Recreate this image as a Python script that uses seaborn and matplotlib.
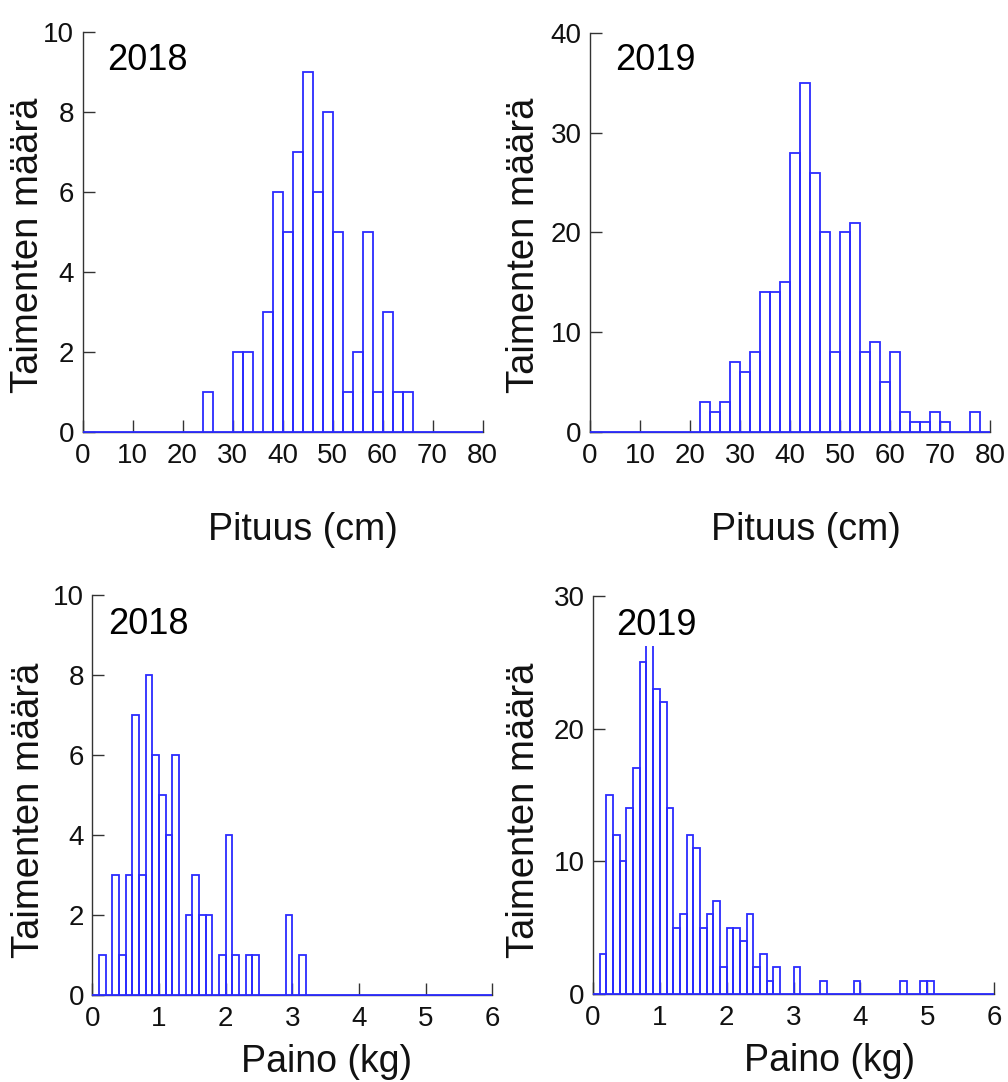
import numpy as np
import pandas as pd
import matplotlib
matplotlib.use("Agg")
import matplotlib.pyplot as plt
import seaborn as sns

# ---------------- data (bin lower edges and counts) ----------------
len2018_bins = [24, 30, 32, 36, 38, 40, 42, 44, 46, 48, 50, 52, 54, 56, 58, 60, 62, 64]
len2018_counts = [1, 2, 2, 3, 6, 5, 7, 9, 6, 8, 5, 1, 2, 5, 1, 3, 1, 1]

len2019_bins = [22, 24, 26, 28, 30, 32, 34, 36, 38, 40, 42, 44, 46, 48, 50, 52, 54,
                56, 58, 60, 62, 64, 66, 68, 70, 76]
len2019_counts = [3, 2, 3, 7, 6, 8, 14, 14, 15, 28, 35, 26, 20, 8, 20, 21, 8,
                  9, 5, 8, 2, 1, 1, 2, 1, 2]

wt2018_bins = [0.1, 0.3, 0.4, 0.5, 0.6, 0.7, 0.8, 0.9, 1.0, 1.1, 1.2, 1.4, 1.5, 1.6,
               1.7, 1.9, 2.0, 2.1, 2.3, 2.4, 2.9, 3.1]
wt2018_counts = [1, 3, 1, 3, 7, 3, 8, 6, 5, 4, 6, 2, 3, 2, 2, 1, 4, 1, 1, 1, 2, 1]

wt2019_bins = [0.1, 0.2, 0.3, 0.4, 0.5, 0.6, 0.7, 0.8, 0.9, 1.0, 1.1, 1.2, 1.3, 1.4,
               1.5, 1.6, 1.7, 1.8, 1.9, 2.0, 2.1, 2.2, 2.3, 2.4, 2.5, 2.6, 2.7, 3.0,
               3.4, 3.9, 4.6, 4.9, 5.0]
wt2019_counts = [3, 15, 12, 10, 14, 17, 25, 27, 23, 22, 14, 5, 6, 12, 11, 5, 6, 7, 2,
                 5, 5, 4, 6, 2, 3, 1, 2, 2, 1, 1, 1, 1, 1]

years = ["2018", "2019", "2018", "2019"]
ylabel_text = "Taimenten määrä"
xlabel_len = "Pituus (cm)"
xlabel_wt = "Paino (kg)"

# ---------------- style ----------------
sns.set_style("ticks")
plt.rcParams["font.family"] = ["Liberation Sans", "DejaVu Sans"]

BLUE = "#2b2bff"
AXC = "#333333"

fig = plt.figure(figsize=(10.08, 10.82), dpi=100)

H = 1082.0
W = 1008.0


def make_ax(l_px, top_px, w_px, h_px):
    return fig.add_axes([l_px / W, 1 - (top_px + h_px) / H, w_px / W, h_px / H])


panels = [
    dict(ax=make_ax(82.5, 32, 400, 400), bins=len2018_bins, counts=len2018_counts,
         width=2, xmax=80, ymax=10, yticks=[0, 2, 4, 6, 8, 10], xticks=list(range(0, 81, 10)),
         xlabel=xlabel_len, year=years[0], xlab=(0.55, -0.245), ylab=(-0.135, 0.4675),
         ytxt=(0.0625, 0.93), bbox=False),
    dict(ax=make_ax(590, 33, 400, 399), bins=len2019_bins, counts=len2019_counts,
         width=2, xmax=80, ymax=40, yticks=[0, 10, 20, 30, 40], xticks=list(range(0, 81, 10)),
         xlabel=xlabel_len, year=years[1], xlab=(0.54, -0.245), ylab=(-0.165, 0.4675),
         ytxt=(0.0625, 0.93), bbox=False),
    dict(ax=make_ax(92.3, 595, 400, 400), bins=wt2018_bins, counts=wt2018_counts,
         width=0.1, xmax=6, ymax=10, yticks=[0, 2, 4, 6, 8, 10], xticks=list(range(0, 7)),
         xlabel=xlabel_wt, year=years[2], xlab=(0.586, -0.168), ylab=(-0.158, 0.4625),
         ytxt=(0.04, 0.925), bbox=False),
    dict(ax=make_ax(593, 596, 401, 398), bins=wt2019_bins, counts=wt2019_counts,
         width=0.1, xmax=6, ymax=30, yticks=[0, 10, 20, 30], xticks=list(range(0, 7)),
         xlabel=xlabel_wt, year=years[3], xlab=(0.589, -0.168), ylab=(-0.172, 0.4625),
         ytxt=(0.0575, 0.927), bbox=True),
]

for p in panels:
    ax = p["ax"]
    w = p["width"]
    df = pd.DataFrame({"x": np.array(p["bins"], dtype=float) + w / 2,
                       "n": np.array(p["counts"], dtype=float)})
    sns.histplot(data=df, x="x", weights="n", binwidth=w, binrange=(0, p["xmax"]),
                 fill=False, color=BLUE, linewidth=1.3, ax=ax)
    for patch in ax.patches:
        patch.set_clip_on(False)
        patch.set_zorder(3)
    ax.set_xlim(0, p["xmax"])
    ax.set_ylim(0, p["ymax"])
    ax.set_xticks(p["xticks"])
    ax.set_yticks(p["yticks"])
    sns.despine(ax=ax)
    for s in ["left", "bottom"]:
        ax.spines[s].set_color(AXC)
        ax.spines[s].set_linewidth(1.0)
    ax.tick_params(direction="in", length=8.5, width=1.0, color=AXC,
                   labelsize=20, labelcolor="#111111")
    ax.tick_params(axis="x", pad=8)
    ax.tick_params(axis="y", pad=6)
    ax.set_xlabel(p["xlabel"], fontsize=27, color="#111111", va="center")
    ax.xaxis.set_label_coords(*p["xlab"])
    ax.set_ylabel(ylabel_text, fontsize=27.5, color="#111111", va="center")
    ax.yaxis.set_label_coords(*p["ylab"])
    kw = {}
    if p["bbox"]:
        kw["bbox"] = dict(facecolor="white", edgecolor="none", pad=2.5)
    ax.text(p["ytxt"][0], p["ytxt"][1], p["year"], transform=ax.transAxes,
            fontsize=26, color="black", ha="left", va="center", zorder=5, **kw)
    ax.set_facecolor("white")

fig.savefig("out.png", dpi=100, facecolor="white")
